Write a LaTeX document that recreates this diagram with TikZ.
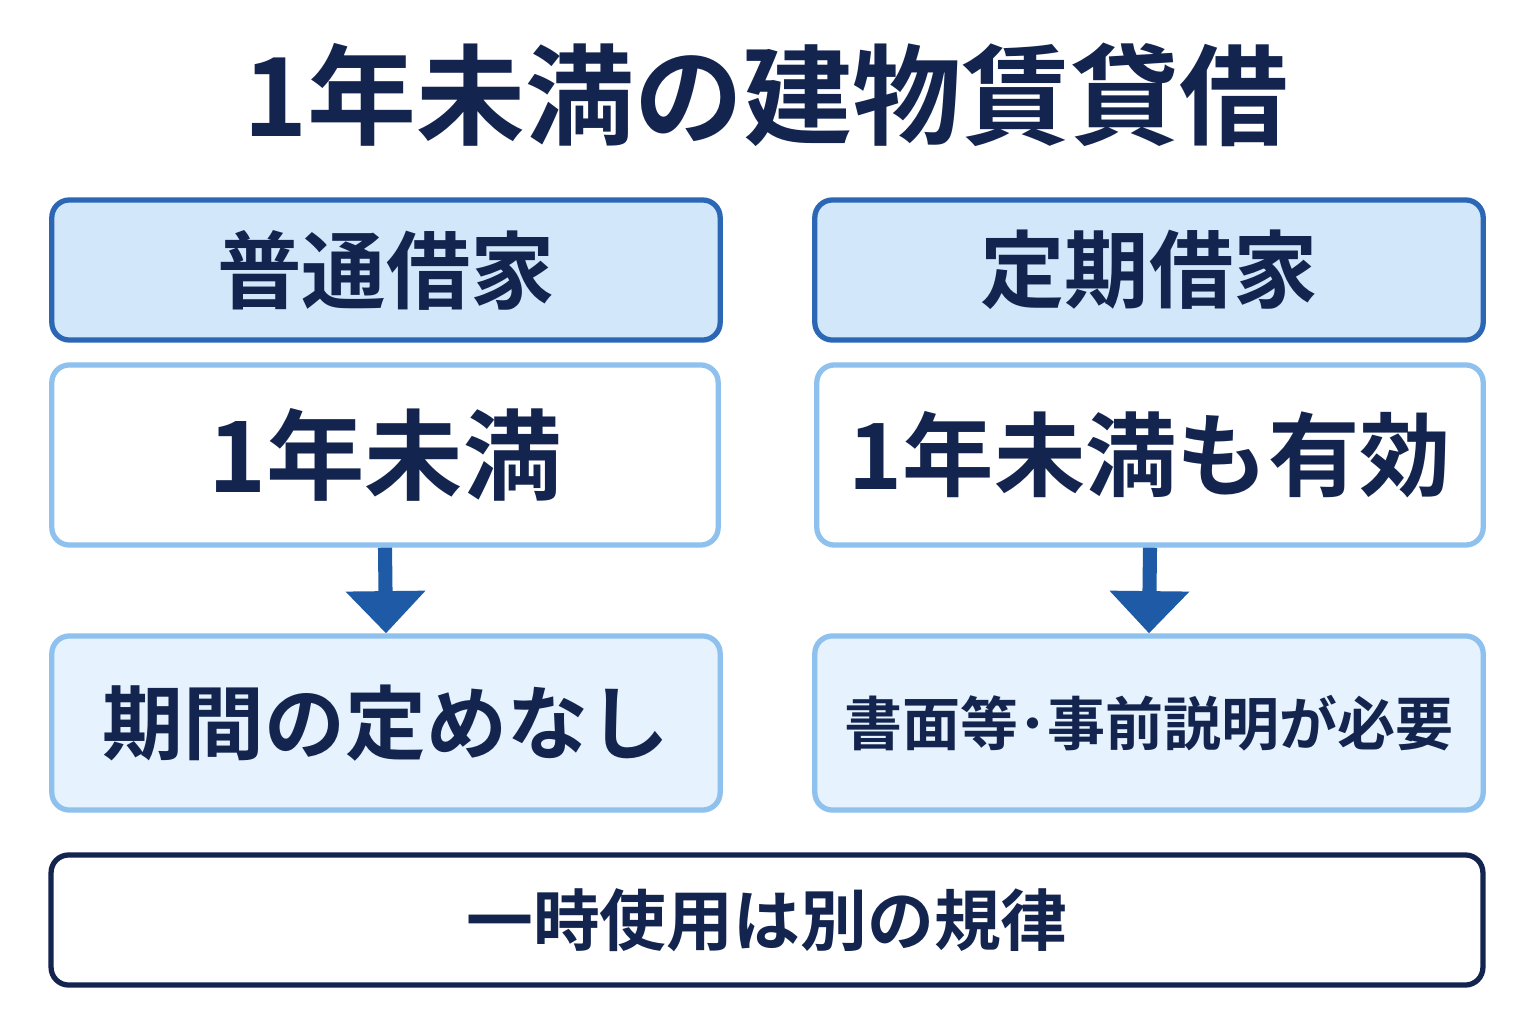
\documentclass[tikz,border=0pt]{standalone}
\usepackage{fontspec}
\usetikzlibrary{arrows.meta}
\newfontfamily\cjk{Noto Sans CJK JP}[BoldFont={Noto Sans CJK JP Bold}]
\definecolor{navy}{HTML}{13244F}
\definecolor{deep}{HTML}{2C67B5}
\definecolor{pale}{HTML}{8EC1EE}
\definecolor{headfill}{HTML}{D2E7FA}
\definecolor{lowfill}{HTML}{E6F2FD}
\definecolor{arrowc}{HTML}{1F5AA6}
\tikzset{
  box/.style={rounded corners=5pt, line width=1.5pt, inner sep=0pt, minimum height=#1, text=navy},
  head/.style={box=1.4cm, draw=deep, fill=headfill, minimum width=6.68cm},
  mid/.style={box=1.8cm, draw=pale, fill=white, minimum width=6.66cm},
  low/.style={box=1.74cm, draw=pale, fill=lowfill, minimum width=6.68cm},
  down/.style={arrowc, line width=4pt, -{Triangle[width=22pt,length=12pt]}}
}
\newcommand\fs[1]{\cjk\bfseries\fontsize{#1}{#1}\selectfont}
\begin{document}
\begin{tikzpicture}[x=0.01cm,y=-0.01cm]
    \useasboundingbox (0,0) rectangle (1536,1024);
    \fill[white] (0,0) rectangle (1536,1024);

    \node[text=navy, font=\fs{31pt}] (title) at (766,95) {1年未満の建物賃貸借};

    \node[head, font=\fs{24pt}] (Futsu) at (386,270) {普通借家};
    \node[head, font=\fs{24pt}] (Teiki) at (1149,270) {定期借家};

    \node[mid, font=\fs{28pt}] (Futsum) at (385,455) {1年未満};
    \node[mid, font=\fs{26pt}] (Teikim) at (1150,455) {1年未満も有効};

    \node[low, font=\fs{23pt}] (Futsul) at (386,723) {期間の定めなし};
    \node[low, font=\fs{16.5pt}] (Teikil) at (1149,723) {書面等･事前説明が必要};

    \node[box=1.3cm, draw=navy, fill=white, minimum width=14.31cm, font=\fs{19pt}] (Foot) at (767,920) {一時使用は別の規律};

    \draw[down] (Futsum.south) -- (Futsul.north);
    \draw[down] (Teikim.south) -- (Teikil.north);
\end{tikzpicture}
\end{document}
